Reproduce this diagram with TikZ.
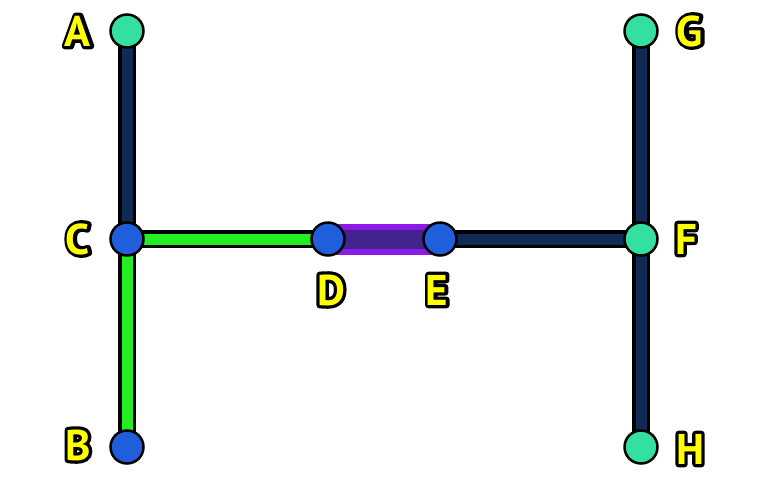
\documentclass[tikz,border=0pt]{standalone}
\usepackage{fontspec}
\newfontfamily\lblfont{PT Sans}
\definecolor{navy}{HTML}{0F2A55}
\definecolor{lgreen}{HTML}{22EE22}
\definecolor{teal}{HTML}{33E0A0}
\definecolor{nblue}{HTML}{1F5FDB}
\definecolor{purpout}{HTML}{8B1AE6}
\definecolor{purpin}{HTML}{43238F}
\definecolor{lyellow}{HTML}{FFFF00}
\tikzset{
  vtx/.style={circle,draw=black,line width=2.5pt,minimum size=33pt,inner sep=0pt},
  tealvtx/.style={vtx,fill=teal},
  bluevtx/.style={vtx,fill=nblue},
  lbl/.style={font=\lblfont\bfseries\fontsize{43}{43}\selectfont,inner sep=0pt},
  edgeout/.style={line width=18pt,black},
  navyedge/.style={line width=11pt,navy},
  greenedge/.style={line width=11pt,lgreen},
}
\newcommand\olbl[3]{%
  \node[lbl] (#1) at #2 {\rlap{\color{black}\special{pdf:literal direct 1 Tr 6.5 w 1 j}#3\special{pdf:literal direct 0 Tr 1 w}}\color{lyellow}#3};}
\begin{document}
\begin{tikzpicture}[x=1pt,y=-1pt]
\useasboundingbox[fill=white] (0,0) rectangle (768,480);
\coordinate (A) at (127,31);
\coordinate (C) at (127,239);
\coordinate (B) at (127,447);
\coordinate (D) at (328,239);
\coordinate (E) at (440,239);
\coordinate (F) at (641,239);
\coordinate (G) at (641,31);
\coordinate (H) at (641,447);
% outlines
\draw[edgeout] (A) -- (C);
\draw[edgeout] (C) -- (B);
\draw[edgeout] (C) -- (D);
\draw[edgeout] (E) -- (F);
\draw[edgeout] (G) -- (F);
\draw[edgeout] (F) -- (H);
% fills
\draw[navyedge] (A) -- (C);
\draw[greenedge] (C) -- (B);
\draw[greenedge] (C) -- (D);
\draw[navyedge] (E) -- (F);
\draw[navyedge] (G) -- (F);
\draw[navyedge] (F) -- (H);
\draw[line width=31pt,purpout] (D) -- (E);
\draw[line width=19pt,purpin] (D) -- (E);
% vertices
\node[tealvtx] (nA) at (A) {};
\node[bluevtx] (nC) at (C) {};
\node[bluevtx] (nB) at (B) {};
\node[bluevtx] (nD) at (D) {};
\node[bluevtx] (nE) at (E) {};
\node[tealvtx] (nF) at (F) {};
\node[tealvtx] (nG) at (G) {};
\node[tealvtx] (nH) at (H) {};
% labels
\olbl{lA}{(78,31)}{A}
\olbl{lC}{(78,239)}{C}
\olbl{lB}{(78,445)}{B}
\olbl{lD}{(331,290)}{D}
\olbl{lE}{(437,290)}{E}
\olbl{lF}{(686,239)}{F}
\olbl{lG}{(690,31)}{G}
\olbl{lH}{(690,449)}{H}
\end{tikzpicture}
\end{document}
